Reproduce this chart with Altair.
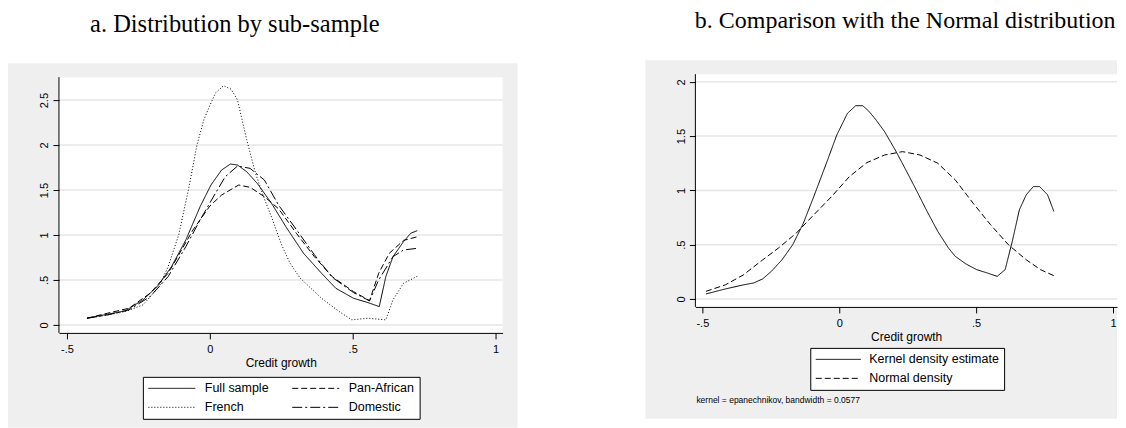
import altair as alt
import pandas as pd

# ---------------- Panel a: distribution by sub-sample ----------------
# legend order (column-major fill): Full sample, French | Pan-African, Domestic
series_a = ["Full sample", "French", "Pan-African", "Domestic"]
dashes_a = [[1, 0], [1, 2], [6, 3], [10, 3, 2, 3]]

full_x = [-0.430, -0.358, -0.296, -0.234, -0.184, -0.134, -0.084, -0.034, 0.004, 0.041, 0.072, 0.097,
          0.129, 0.166, 0.216, 0.266, 0.328, 0.391, 0.441, 0.503, 0.553, 0.593, 0.616, 0.641, 0.678, 0.703, 0.726]
full_y = [0.074, 0.119, 0.156, 0.278, 0.426, 0.648, 0.944, 1.315, 1.556, 1.722, 1.789, 1.778,
          1.704, 1.574, 1.352, 1.093, 0.796, 0.574, 0.407, 0.296, 0.248, 0.204, 0.537, 0.759, 0.926, 1.019, 1.048]

pan_x = [-0.430, -0.358, -0.283, -0.209, -0.146, -0.109, -0.059, 0.000, 0.041, 0.101, 0.141, 0.191,
         0.241, 0.303, 0.366, 0.428, 0.503, 0.559, 0.591, 0.628, 0.678, 0.726]
pan_y = [0.074, 0.130, 0.185, 0.352, 0.574, 0.778, 1.056, 1.322, 1.444, 1.556, 1.530, 1.426,
         1.290, 1.019, 0.759, 0.537, 0.370, 0.270, 0.574, 0.796, 0.940, 0.980]

french_x = [-0.430, -0.358, -0.296, -0.234, -0.177, -0.146, -0.109, -0.075, -0.045, -0.021, 0.000, 0.020,
            0.048, 0.075, 0.097, 0.129, 0.160, 0.191, 0.216, 0.250, 0.280, 0.316, 0.391, 0.453, 0.497,
            0.553, 0.616, 0.641, 0.678, 0.728]
french_y = [0.074, 0.110, 0.148, 0.222, 0.426, 0.648, 1.000, 1.500, 2.000, 2.280, 2.440, 2.580,
            2.660, 2.620, 2.500, 2.060, 1.685, 1.400, 1.200, 0.900, 0.690, 0.520, 0.296, 0.148, 0.056,
            0.074, 0.056, 0.278, 0.463, 0.544]

dom_x = [-0.430, -0.358, -0.283, -0.209, -0.146, -0.084, -0.034, 0.016, 0.054, 0.097, 0.141, 0.191,
         0.241, 0.303, 0.366, 0.428, 0.503, 0.559, 0.591, 0.641, 0.678, 0.726]
dom_y = [0.074, 0.111, 0.167, 0.315, 0.537, 0.870, 1.167, 1.444, 1.648, 1.767, 1.741, 1.611,
         1.330, 1.060, 0.780, 0.530, 0.359, 0.267, 0.500, 0.759, 0.833, 0.852]

# ---------------- Panel b: comparison with the Normal ----------------
series_b = ["Kernel density estimate", "Normal density"]
dashes_b = [[1, 0], [6, 3]]

kde_x = [-0.487, -0.416, -0.351, -0.313, -0.280, -0.248, -0.209, -0.170, -0.131, -0.093, -0.047, -0.009,
         0.030, 0.060, 0.086, 0.108, 0.134, 0.166, 0.205, 0.243, 0.282, 0.321, 0.360, 0.399, 0.424,
         0.463, 0.502, 0.541, 0.577, 0.606, 0.632, 0.658, 0.683, 0.709, 0.732, 0.761, 0.784]
kde_y = [0.046, 0.092, 0.129, 0.147, 0.184, 0.254, 0.361, 0.499, 0.698, 0.943, 1.250, 1.510,
         1.710, 1.780, 1.780, 1.730, 1.650, 1.540, 1.370, 1.190, 1.000, 0.806, 0.622, 0.469, 0.392,
         0.322, 0.270, 0.239, 0.208, 0.270, 0.530, 0.821, 0.959, 1.035, 1.035, 0.959, 0.806]

norm_x = [-0.487, -0.416, -0.351, -0.287, -0.222, -0.157, -0.093, -0.028, 0.037, 0.101, 0.166, 0.231,
          0.295, 0.360, 0.424, 0.489, 0.553, 0.618, 0.683, 0.735, 0.784]
norm_y = [0.070, 0.130, 0.220, 0.346, 0.469, 0.606, 0.775, 0.943, 1.127, 1.256, 1.326, 1.357,
          1.326, 1.250, 1.096, 0.882, 0.683, 0.499, 0.361, 0.270, 0.214]

note_text = "kernel = epanechnikov, bandwidth = 0.0577"
title_a = "a. Distribution by sub-sample"
title_b = "b. Comparison with the Normal distribution"
x_ticks = [-0.5, 0, 0.5, 1]
y_ticks_a = [0, 0.5, 1, 1.5, 2, 2.5]
y_ticks_b = [0, 0.5, 1, 1.5, 2]


def to_long(items, key):
    rows = []
    for name, xs, ys in items:
        for i, (xv, yv) in enumerate(zip(xs, ys)):
            rows.append({key: name, "x": xv, "y": yv, "i": i})
    return pd.DataFrame(rows)


df_a = to_long([("Full sample", full_x, full_y), ("Pan-African", pan_x, pan_y),
                ("French", french_x, french_y), ("Domestic", dom_x, dom_y)], "sample")
df_b = to_long([("Kernel density estimate", kde_x, kde_y), ("Normal density", norm_x, norm_y)], "curve")

GRAY = "#efefef"
GRID = "#e6e6e6"
SANS = "Liberation Sans"
SERIF = "Liberation Serif"
LBL = "(datum.value < 0 ? '-' : '') + replace(toString(abs(datum.value)), '0.', '.')"

LW, LH = 444, 259
RW, RH = 422, 233
one = pd.DataFrame({"k": [0]})


def rect(x, x2, y, y2, color):
    return alt.Chart(one).mark_rect(color=color).encode(
        x=alt.value(x), x2=alt.value(x2), y=alt.value(y), y2=alt.value(y2))


def x_enc(domain):
    return alt.X("x:Q", scale=alt.Scale(domain=domain, nice=False, zero=False),
                 axis=alt.Axis(values=x_ticks, labelExpr=LBL, title="Credit growth", grid=False,
                               domainColor="black", tickColor="black", tickSize=6,
                               labelFont=SANS, labelFontSize=11, labelColor="black", labelPadding=5,
                               titleFont=SANS, titleFontSize=12, titleFontWeight="normal",
                               titleColor="black", titlePadding=2.5, zindex=1))


def y_enc(domain, ticks):
    return alt.Y("y:Q", scale=alt.Scale(domain=domain, nice=False, zero=False),
                 axis=alt.Axis(values=ticks, labelExpr=LBL, title=None, grid=False, domain=False,
                               tickColor="black", tickSize=6, labelAngle=270, labelAlign="center",
                               labelBaseline="bottom", labelFont=SANS, labelFontSize=11,
                               labelColor="black", labelPadding=3, zindex=1))


def legend(x, y, cols, sym_len, lab_gap, col_pad=21):
    # a line symbol drawn longer than its 12px layout box, placed with offsets
    path = "M-%.4f,0H%.4f" % (sym_len / 12.0, sym_len / 12.0)
    return alt.Legend(orient="none", legendX=x, legendY=y, columns=cols, title=None,
                      symbolType=path, symbolSize=144, symbolStrokeWidth=1,
                      symbolStrokeColor="black", symbolOffset=sym_len / 2.0 - 6,
                      strokeColor="black", fillColor="white", padding=5,
                      labelFont=SANS, labelFontSize=12.5, labelColor="black",
                      labelOffset=sym_len / 2.0 + lab_gap - 6, rowPadding=6, columnPadding=col_pad,
                      labelLimit=300)


# ---------- left panel ----------
xa = [-0.528, 1.0245]
ya = [-0.089, 2.789]
grid_a = pd.DataFrame({"y": y_ticks_a})

left = alt.layer(
    rect(-51, 459, -11, 354, GRAY),
    rect(-51, -49, -66, -64, "white"),
    rect(0, LW, 3, LH, "white"),
    alt.Chart(grid_a).mark_rule(color=GRID, strokeWidth=1.5).encode(
        y=y_enc(ya, y_ticks_a), x=alt.value(0), x2=alt.value(LW)),
    alt.Chart(one).mark_rule(color="black", strokeWidth=1).encode(
        x=alt.value(0), y=alt.value(3), y2=alt.value(LH)),
    alt.Chart(df_a).mark_line(color="black", strokeWidth=1).encode(
        x=x_enc(xa), y=y_enc(ya, y_ticks_a), order="i:Q",
        strokeDash=alt.StrokeDash("sample:N", scale=alt.Scale(domain=series_a, range=dashes_a),
                                  legend=legend(84, 303, 2, 47, 9)),
    ),
    alt.Chart(one).mark_text(text=title_a, font=SERIF, fontSize=24.5, align="center",
                             baseline="alphabetic", color="black").encode(
        x=alt.value(176), y=alt.value(-42)),
).properties(width=LW, height=LH)

# ---------- right panel ----------
xb = [-0.5255, 1.0146]
yb = [-0.0735, 2.071]
grid_b = pd.DataFrame({"y": y_ticks_b})

right = alt.layer(
    rect(-50, RW, -14, 345, GRAY),
    rect(0, RW, 0, RH, "white"),
    alt.Chart(grid_b).mark_rule(color=GRID, strokeWidth=1.5).encode(
        y=y_enc(yb, y_ticks_b), x=alt.value(0), x2=alt.value(RW)),
    alt.Chart(one).mark_rule(color="black", strokeWidth=1).encode(
        x=alt.value(0), y=alt.value(0), y2=alt.value(RH)),
    alt.Chart(df_b).mark_line(color="black", strokeWidth=1).encode(
        x=x_enc(xb), y=y_enc(yb, y_ticks_b), order="i:Q",
        strokeDash=alt.StrokeDash("curve:N", scale=alt.Scale(domain=series_b, range=dashes_b),
                                  legend=legend(115, 274, 1, 45, 8)),
    ),
    alt.Chart(one).mark_text(text=title_b, font=SERIF, fontSize=24, align="center",
                             baseline="alphabetic", color="black").encode(
        x=alt.value(210), y=alt.value(-46)),
    alt.Chart(one).mark_text(text=note_text, font=SANS, fontSize=8.5, align="left",
                             baseline="middle", color="black").encode(
        x=alt.value(1), y=alt.value(326)),
).properties(width=RW, height=RH)

chart = alt.hconcat(left, right, spacing=193, bounds="flush").resolve_scale(
    x="independent", y="independent", strokeDash="independent"
).resolve_legend(strokeDash="independent").properties(
    padding=0, background="white"
).configure_view(stroke=None)

chart.save("out.html", embed_options={"renderer": "svg", "actions": False})
